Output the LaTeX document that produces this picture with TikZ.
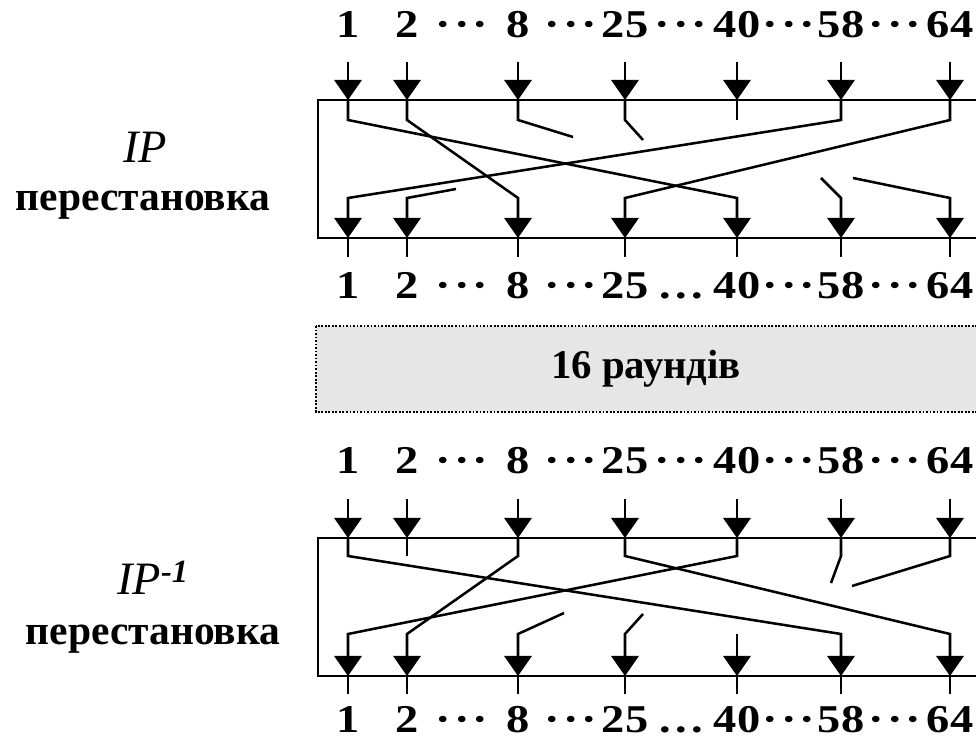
\documentclass[tikz,border=0pt]{standalone}
\usepackage{fontspec}
\setmainfont{Liberation Serif}
\newfontfamily\numfont[FakeStretch=1.18]{Liberation Serif}
\usetikzlibrary{arrows.meta,positioning}
\definecolor{roundgray}{HTML}{E6E6E6}
\newcommand{\middots}{·\kern2pt·\kern2pt·}
\newcommand{\lowdots}{.\kern3pt.\kern3pt.}

\begin{document}
\begin{tikzpicture}[
  x=0.025cm, y=-0.025cm,
  num/.style={font=\fontsize{28}{32}\numfont\bfseries, inner sep=0pt, anchor=base},
  lbl/.style={font=\fontsize{29.5}{34}\selectfont, inner sep=0pt, anchor=base},
  perm/.style={draw, line width=2pt},
  rnd/.style={draw, fill=roundgray, line width=1.3pt, dash pattern=on 1.3pt off 1.2pt},
  wire/.style={line width=1.8pt},
  arr/.style={wire, -{Triangle[width=6.8mm, length=5mm]}}
]
\useasboundingbox (0,0) rectangle (976,740);

% boxes
\draw[perm] (318,100) rectangle (1000,238);
\draw[rnd] (316,326) rectangle (1000,412);
\draw[perm] (318,538) rectangle (1000,676);
\node[lbl, anchor=center, font=\fontsize{29}{34}\selectfont\bfseries] (rounds) at (646,369) {16 раундів};

% left labels
\node[lbl, font=\fontsize{33}{38}\selectfont] (ip-name) at (145,163) {\textit{IP}};
\node[lbl, font=\fontsize{29.5}{34}\selectfont\bfseries] (ip-perm) at (143,211) {перестановка};
\node[lbl, font=\fontsize{33}{38}\selectfont] (inv-name) at (153,595) {\textit{IP}\textsuperscript{\textbf{\textit{-1}}}};
\node[lbl, font=\fontsize{29.5}{34}\selectfont\bfseries] (inv-perm) at (153,645) {перестановка};

% pins of both boxes
\foreach \x/\n in {348/1,407/2,518/8,625/25,737/40,841/58,950/64} {
  % IP
  \node[num] (ip-in-\n) at (\x,38) {\n};
  \coordinate (ip-s-\n) at (\x,62);
  \coordinate (ip-t-\n) at (\x,100);
  \coordinate (ip-u-\n) at (\x,120);
  \coordinate (ip-l-\n) at (\x,198);
  \coordinate (ip-b-\n) at (\x,238);
  \coordinate (ip-e-\n) at (\x,257);
  \node[num] (ip-out-\n) at (\x,299) {\n};
  \draw[arr] (ip-s-\n) -- (ip-t-\n);
  \draw[wire] (ip-b-\n) -- (ip-e-\n);
  % IP^-1
  \node[num] (inv-in-\n) at (\x,474) {\n};
  \coordinate (inv-s-\n) at (\x,499);
  \coordinate (inv-t-\n) at (\x,538);
  \coordinate (inv-u-\n) at (\x,556);
  \coordinate (inv-l-\n) at (\x,634);
  \coordinate (inv-b-\n) at (\x,676);
  \coordinate (inv-e-\n) at (\x,694);
  \node[num] (inv-out-\n) at (\x,733) {\n};
  \draw[arr] (inv-s-\n) -- (inv-t-\n);
  \draw[wire] (inv-b-\n) -- (inv-e-\n);
}

% dots between the numbers
\foreach \y/\r/\m in {38/a/\middots, 299/b/\lowdots, 474/c/\middots, 733/d/\lowdots} {
  \node[num] (dots-\r1) at (462,\y) {\middots};
  \node[num] (dots-\r2) at (571,\y) {\middots};
  \node[num] (dots-\r3) at (681,\y) {\m};
  \node[num] (dots-\r4) at (789,\y) {\middots};
  \node[num] (dots-\r5) at (895,\y) {\middots};
}

% IP wiring
\coordinate (ip-d8) at (573,137);
\coordinate (ip-d25) at (643,140);
\coordinate (ip-d2) at (456,189);
\coordinate (ip-d58) at (821,178);
\coordinate (ip-d64) at (853,178);
\draw[arr] (ip-t-1) -- (ip-u-1) -- (ip-l-40) -- (ip-b-40);
\draw[arr] (ip-t-2) -- (ip-u-2) -- (ip-l-8) -- (ip-b-8);
\draw[arr] (ip-t-58) -- (ip-u-58) -- (ip-l-1) -- (ip-b-1);
\draw[arr] (ip-t-64) -- (ip-u-64) -- (ip-l-25) -- (ip-b-25);
\draw[wire] (ip-t-8) -- (ip-u-8) -- (ip-d8);
\draw[wire] (ip-t-25) -- (ip-u-25) -- (ip-d25);
\draw[wire] (ip-t-40) -- (ip-u-40);
\draw[arr] (ip-d2) -- (ip-l-2) -- (ip-b-2);
\draw[arr] (ip-d58) -- (ip-l-58) -- (ip-b-58);
\draw[arr] (ip-d64) -- (ip-l-64) -- (ip-b-64);

% IP^-1 wiring
\coordinate (inv-d58) at (831,583);
\coordinate (inv-d64) at (852,586);
\coordinate (inv-d8) at (564,613);
\coordinate (inv-d25) at (643,614);
\draw[arr] (inv-t-1) -- (inv-u-1) -- (inv-l-58) -- (inv-b-58);
\draw[arr] (inv-t-8) -- (inv-u-8) -- (inv-l-2) -- (inv-b-2);
\draw[arr] (inv-t-25) -- (inv-u-25) -- (inv-l-64) -- (inv-b-64);
\draw[arr] (inv-t-40) -- (inv-u-40) -- (inv-l-1) -- (inv-b-1);
\draw[wire] (inv-t-2) -- (inv-u-2);
\draw[wire] (inv-t-58) -- (inv-u-58) -- (inv-d58);
\draw[wire] (inv-t-64) -- (inv-u-64) -- (inv-d64);
\draw[arr] (inv-d8) -- (inv-l-8) -- (inv-b-8);
\draw[arr] (inv-d25) -- (inv-l-25) -- (inv-b-25);
\draw[arr] (inv-l-40) -- (inv-b-40);
\end{tikzpicture}
\end{document}
